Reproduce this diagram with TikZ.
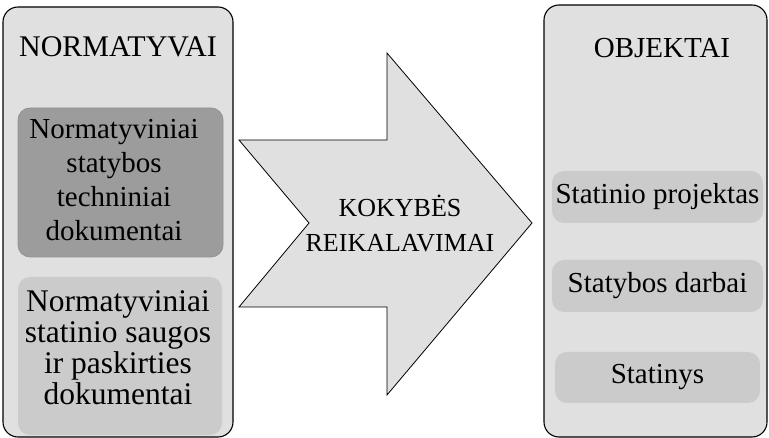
\documentclass[tikz,border=0pt]{standalone}
\usepackage{fontspec}
\setmainfont{Liberation Serif}
\definecolor{outerfill}{HTML}{E0E0E0}
\definecolor{darkfill}{HTML}{9C9C9C}
\definecolor{darkline}{HTML}{929292}
\definecolor{lightfill}{HTML}{CBCBCB}
\begin{document}
\begin{tikzpicture}[x=1pt,y=-1pt,
  outerbox/.style={draw=black, line width=1.1pt, fill=outerfill, rounded corners=15pt},
  darkbox/.style={draw=darkline, line width=0.8pt, fill=darkfill, rounded corners=12pt},
  lightbox/.style={draw=none, fill=lightfill, rounded corners=12pt},
  bodytxt/.style={font=\fontsize{29}{34}\selectfont, align=center, inner sep=0pt},
  headtxt/.style={font=\fontsize{30}{34}\selectfont, inner sep=0pt},
  arrowshape/.style={draw=black, line width=0.8pt, fill=outerfill, line join=miter}
]
\useasboundingbox (0,0) rectangle (769,438);
% outer panels
\draw[outerbox] (3,7) rectangle (233,437);
\draw[outerbox] (544,5) rectangle (767,437);
% left panel
\node[headtxt] (norm) at (118,47) {NORMATYVAI};
\draw[darkbox] (18,108) rectangle (223,257);
\node[bodytxt] (ntech) at (114,180) {Normatyviniai\\statybos\\techniniai\\dokumentai};
\fill[lightbox] (18,277) rectangle (222,435);
\node[bodytxt, font=\fontsize{31.5}{31}\selectfont] (nsaug) at (118,348) {Normatyviniai\\statinio saugos\\ir paskirties\\dokumentai};
% arrow
\coordinate (a1) at (239,140);
\coordinate (a2) at (387,140);
\coordinate (a3) at (387,53);
\coordinate (a4) at (532,223);
\coordinate (a5) at (387,395);
\coordinate (a6) at (387,307);
\coordinate (a7) at (239,307);
\coordinate (a8) at (309,223);
\draw[arrowshape] (a1) -- (a2) -- (a3) -- (a4) -- (a5) -- (a6) -- (a7) -- (a8) -- cycle;
\node[font=\fontsize{26}{35}\selectfont, align=center, inner sep=0pt] (kok) at (400,223) {KOKYBĖS\\REIKALAVIMAI};
% right panel
\node[headtxt, font=\fontsize{29}{34}\selectfont] (obj) at (662,48) {OBJEKTAI};
\node[lightbox, minimum width=211pt, minimum height=52pt, bodytxt] (p1) at (657.5,197) {Statinio projektas};
\node[lightbox, minimum width=211pt, minimum height=52pt, bodytxt] (p2) at (657.5,286) {Statybos darbai};
\node[lightbox, minimum width=205pt, minimum height=51pt, bodytxt] (p3) at (657.5,377.5) {Statinys};
\end{tikzpicture}
\end{document}
